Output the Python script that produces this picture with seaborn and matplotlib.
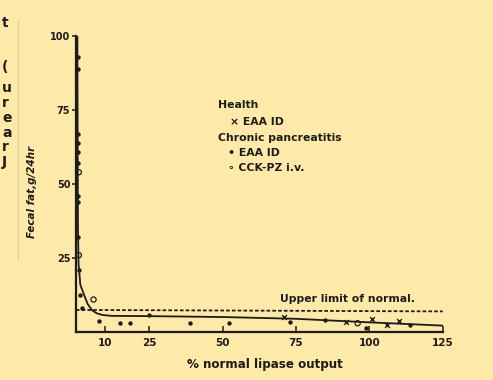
import numpy as np
import pandas as pd
import matplotlib
matplotlib.use("Agg")
import matplotlib.pyplot as plt
import seaborn as sns

# values
# fitted curve (solid)
curve_x = [0.5, 0.6, 0.7, 0.9, 1.5, 3, 4, 5.5, 7, 9, 12, 25, 50, 75, 100, 125]
curve_y = [100, 60, 35, 23, 16, 12, 9.5, 7.4, 6.4, 5.8, 5.5, 5.4, 5.1, 4.5, 3.3, 2.2]

# upper limit of normal (dashed)
limit_x = [0, 125]
limit_y = [7.5, 7.0]

# Health, EAA ID (crosses)
health_x = [71, 92, 101, 106, 110]
health_y = [5.1, 3.4, 4.4, 2.4, 3.6]

# Chronic pancreatitis, EAA ID (filled dots)
cp_eaa_x = [0.6, 0.6, 0.6, 0.6, 0.6, 0.7, 0.7, 0.8, 0.8, 0.9, 1.5, 2, 8, 25, 73, 85, 99, 114, 15, 18.5, 39, 52]
cp_eaa_y = [93, 89, 67, 64, 61, 57, 46, 44, 32, 21, 12.5, 8, 3.7, 5.7, 3.4, 4.0, 1.4, 2.4, 3.0, 3.0, 3.0, 3.0]

# Chronic pancreatitis, CCK-PZ i.v. (open circles)
cck_x = [1.0, 1.0, 6, 96]
cck_y = [54, 26, 11, 3.0]

# letters of the neighbouring text column on the scanned page
frag = ["t", "(", "u", "r", "e", "a", "r", "J"]
frag_y = [23, 67, 88, 103, 118, 133, 147, 162]

bg = "#fdeaa8"
ink = "#1c1c1c"

sns.set_style("ticks")
plt.rcParams["font.family"] = ["DejaVu Sans"]

fig = plt.figure(figsize=(4.93, 3.80), dpi=100, facecolor=bg)
ax = fig.add_axes([0.154, 0.126, 0.744, 0.779], facecolor=bg)

sns.lineplot(x=curve_x, y=curve_y, ax=ax, color=ink, lw=1.3, sort=False, estimator=None)
sns.lineplot(x=limit_x, y=limit_y, ax=ax, color=ink, lw=1.3, linestyle=(0, (2.0, 1.2)))
sns.scatterplot(x=cp_eaa_x, y=cp_eaa_y, ax=ax, color=ink, marker="o", s=10, linewidth=0)
sns.scatterplot(x=cck_x, y=cck_y, ax=ax, facecolor="none", edgecolor=ink, marker="o", s=14, linewidth=0.9)
sns.scatterplot(x=health_x, y=health_y, ax=ax, color=ink, marker="x", s=12, linewidth=1.0)

ax.set_xlim(0, 125)
ax.set_ylim(0, 100)
ax.set_xticks([10, 25, 50, 75, 100, 125])
ax.set_yticks([25, 50, 75, 100])
ax.tick_params(axis="x", direction="in", length=4, width=1.1, colors=ink, labelsize=7.5, pad=4)
ax.tick_params(axis="y", direction="out", length=3, width=1.1, colors=ink, labelsize=7, pad=1)
for lab in ax.get_xticklabels() + ax.get_yticklabels():
    lab.set_fontweight("bold")
sns.despine(ax=ax)
for side in ["left", "bottom"]:
    ax.spines[side].set_color(ink)
    ax.spines[side].set_linewidth(1.6)

ax.set_xlabel("")
ax.set_ylabel("")

# text legend
txt = dict(color=ink, fontsize=7.8, fontweight="bold", va="center", ha="left")
ax.text(48.4, 76.7, "Health", **txt)
ax.text(52.5, 71.0, "× EAA ID", **txt)
ax.text(48.4, 65.5, "Chronic pancreatitis", **txt)
ax.text(51.8, 60.5, "• EAA ID", **txt)
ax.text(51.8, 55.4, "∘ CCK-PZ i.v.", **txt)
ax.text(69.5, 11.3, "Upper limit of normal.", **txt)

fig.text(0.538, 0.04, "% normal lipase output", color=ink, fontsize=8.6,
         fontweight="bold", ha="center", va="center")
fig.text(0.065, 0.495, "Fecal fat,g/24hr", color=ink, fontsize=7.5, style="italic",
         fontweight="bold", rotation=90, ha="center", va="center")

for ch, yy in zip(frag, frag_y):
    fig.text(2 / 493, 1 - yy / 380, ch, color=ink, fontsize=10, fontweight="bold",
             ha="left", va="center")
fig.add_artist(plt.Line2D([18 / 493, 18 / 493], [1 - 20 / 380, 1 - 260 / 380],
                          color="#d8cfa8", lw=0.8))

fig.savefig("out.png", dpi=100, facecolor=bg)
